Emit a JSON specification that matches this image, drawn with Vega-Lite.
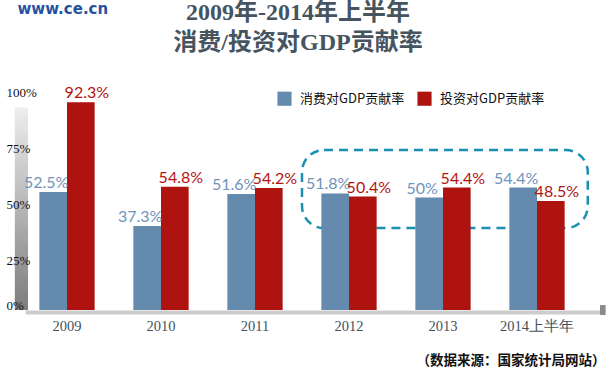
{
  "$schema": "https://vega.github.io/schema/vega-lite/v6.json",
  "width": 564,
  "height": 225,
  "autosize": {"type": "none"},
  "padding": {"left": 20, "top": 85, "right": 24, "bottom": 67},
  "background": "white",
  "config": {"view": {"stroke": null}},
  "title": {
    "text": ["2009年-2014年上半年", "消费/投资对GDP贡献率"],
    "font": "Liberation Serif, Noto Sans CJK SC",
    "fontSize": 24,
    "fontWeight": "bold",
    "color": "#45545f",
    "lineHeight": 30,
    "anchor": "middle",
    "frame": "group",
    "dx": -4,
    "offset": -54
  },
  "data": {
    "values": [
      {"year": "2009", "series": "消费对GDP贡献率", "value": 52.5, "label": "52.5%"},
      {"year": "2009", "series": "投资对GDP贡献率", "value": 92.3, "label": "92.3%"},
      {"year": "2010", "series": "消费对GDP贡献率", "value": 37.3, "label": "37.3%"},
      {"year": "2010", "series": "投资对GDP贡献率", "value": 54.8, "label": "54.8%"},
      {"year": "2011", "series": "消费对GDP贡献率", "value": 51.6, "label": "51.6%"},
      {"year": "2011", "series": "投资对GDP贡献率", "value": 54.2, "label": "54.2%"},
      {"year": "2012", "series": "消费对GDP贡献率", "value": 51.8, "label": "51.8%"},
      {"year": "2012", "series": "投资对GDP贡献率", "value": 50.4, "label": "50.4%"},
      {"year": "2013", "series": "消费对GDP贡献率", "value": 50, "label": "50%"},
      {"year": "2013", "series": "投资对GDP贡献率", "value": 54.4, "label": "54.4%"},
      {"year": "2014上半年", "series": "消费对GDP贡献率", "value": 54.4, "label": "54.4%"},
      {"year": "2014上半年", "series": "投资对GDP贡献率", "value": 48.5, "label": "48.5%"}
    ]
  },
  "layer": [
    {
      "data": {"values": [{"a": 1}]},
      "layer": [
        {
          "mark": {
            "type": "rect",
            "fill": {"gradient": "linear", "x1": 0, "y1": 0, "x2": 0, "y2": 1,
              "stops": [{"offset": 0, "color": "#eeeeee"}, {"offset": 1, "color": "#7c7c7c"}]}
          },
          "encoding": {
            "x": {"datum": -0.055, "type": "quantitative", "scale": {"domain": [0, 6]}, "axis": null},
            "x2": {"datum": 0.085},
            "y": {"datum": 0, "type": "quantitative"},
            "y2": {"datum": 90}
          }
        },
        {
          "mark": {"type": "rect", "fill": "#cccccc"},
          "encoding": {
            "x": {"datum": 0.06, "type": "quantitative", "axis": null},
            "x2": {"datum": 6.2},
            "y": {"datum": -0.2, "type": "quantitative"},
            "y2": {"datum": -2.0}
          }
        },
        {
          "mark": {"type": "rect", "fill": "#8a8a8a"},
          "encoding": {
            "x": {"datum": 6.17, "type": "quantitative", "axis": null},
            "x2": {"datum": 6.23},
            "y": {"datum": 2.2, "type": "quantitative"},
            "y2": {"datum": -2.2}
          }
        },
        {
          "mark": {"type": "rect", "fill": null, "filled": false, "stroke": "#1b8fb0", "strokeWidth": 2.5, "strokeDash": [9, 6], "cornerRadius": 22},
          "encoding": {
            "x": {"datum": 3.0, "type": "quantitative", "axis": null},
            "x2": {"datum": 6.04},
            "y": {"datum": 71.1, "type": "quantitative"},
            "y2": {"datum": 36.4}
          }
        }
      ]
    },
    {
      "encoding": {
        "x": {
          "field": "year", "type": "nominal", "sort": null,
          "scale": {"paddingInner": 0, "paddingOuter": 0},
          "axis": {
            "title": "（数据来源：国家统计局网站）",
            "titleFont": "Noto Sans CJK SC", "titleFontWeight": "bold", "titleFontSize": 13.5, "titleColor": "#111",
            "titleX": 585, "titleY": 50, "titleAlign": "right", "titleBaseline": "middle", "titleAnchor": null,
            "labelAngle": 0, "labelFont": "Liberation Serif", "labelFontSize": 14.5, "labelColor": "#44505b", "labelPadding": 9,
            "ticks": false, "domain": false
          }
        },
        "xOffset": {
          "field": "series", "type": "nominal", "sort": ["消费对GDP贡献率", "投资对GDP贡献率"],
          "scale": {"paddingInner": 0, "paddingOuter": 0.7}
        },
        "y": {
          "field": "value", "type": "quantitative",
          "scale": {"domain": [0, 100]},
          "axis": {
            "title": "www.ce.cn", "titleAngle": 0, "titleX": -3, "titleY": -77, "titleAlign": "left", "titleBaseline": "middle",
            "titleFont": "DejaVu Sans", "titleFontWeight": "bold", "titleFontSize": 15, "titleColor": "#2552a0",
            "values": [0, 25, 50, 75, 100], "labelExpr": "datum.value + '%'",
            "labelAlign": "left", "labelPadding": 14, "ticks": false, "grid": false, "domain": false,
            "labelOffset": {"condition": {"test": "datum.value === 0", "value": -5}, "value": 7},
            "labelFont": "Liberation Serif", "labelFontSize": 13, "labelColor": "#111", "zindex": 1
          }
        }
      },
      "layer": [
        {
          "mark": {"type": "bar"},
          "encoding": {
            "color": {
              "field": "series", "type": "nominal",
              "scale": {"domain": ["消费对GDP贡献率", "投资对GDP贡献率"], "range": ["#648aae", "#ae130f"]},
              "legend": {
                "title": null, "orient": "none", "legendX": 257, "legendY": 6, "direction": "horizontal",
                "symbolType": "square", "symbolSize": 200, "symbolStrokeWidth": 0,
                "labelFont": "Noto Sans CJK SC", "labelFontSize": 13, "labelColor": "#111", "labelOffset": 8, "columnPadding": 12
              }
            }
          }
        },
        {
          "transform": [{"filter": "datum.series === '消费对GDP贡献率'"}],
          "mark": {"type": "text", "font": "Lato", "fontSize": 16, "color": "#6f94ba", "dx": -7, "dy": -4, "baseline": "alphabetic"},
          "encoding": {"text": {"field": "label"}}
        },
        {
          "transform": [{"filter": "datum.series === '投资对GDP贡献率'"}],
          "mark": {"type": "text", "font": "Lato", "fontSize": 16, "color": "#b5130f", "dx": 6, "dy": -4, "baseline": "alphabetic"},
          "encoding": {"text": {"field": "label"}}
        }
      ]
    }
  ],
  "resolve": {"scale": {"x": "independent"}}
}
